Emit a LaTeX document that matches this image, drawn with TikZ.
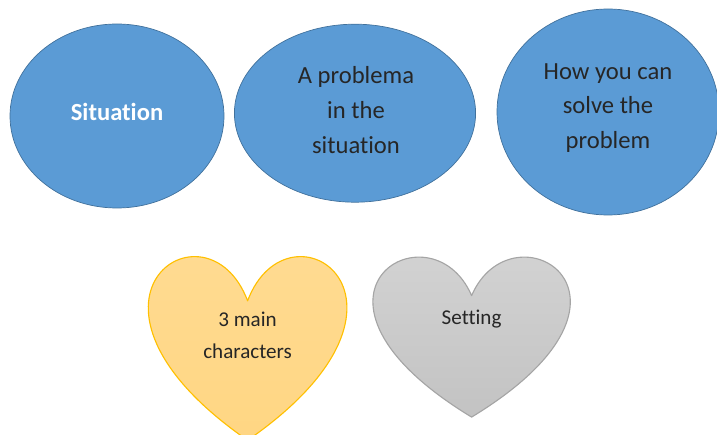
\documentclass[tikz,border=0pt]{standalone}
\usepackage{fontspec}
\setmainfont[Ligatures=NoCommon]{Carlito}
\usepackage{xcolor}
\usepackage{tikz}
\usetikzlibrary{shapes.geometric,positioning}

\definecolor{officeblue}{HTML}{5B9BD5}
\definecolor{blueedge}{HTML}{41719C}
\definecolor{goldfill}{HTML}{FFD683}
\definecolor{goldedge}{HTML}{FFC000}
\definecolor{greyfill}{HTML}{CDCDCD}
\definecolor{greyedge}{HTML}{A5A5A5}
\definecolor{inktext}{HTML}{262626}

\begin{document}
\begin{tikzpicture}[
  bubble/.style={draw=blueedge, line width=0.5pt, ellipse, fill=officeblue, inner sep=0pt},
  bubbletext/.style={align=center, text=inktext, font=\fontsize{17.5}{24.8}\selectfont},
  hearttext/.style={align=center, text=inktext, font=\fontsize{15}{22.8}\selectfont},
  heartline/.style={line width=0.8pt, line join=round}
]

\useasboundingbox (0,0) rectangle (17.925,10.85);
\clip (0,0) rectangle (17.925,10.85);

% top row of ellipses
\node[bubble, minimum width=5.35cm, minimum height=4.6cm] at (2.925, 7.95) (situ) {};
\node[font=\fontsize{17.5}{21}\selectfont\bfseries, text=white] at (2.925, 8.05) (situtxt) {Situation};

\node[bubble, minimum width=6.03cm, minimum height=4.45cm] at (8.875, 8.02) (prob) {};
\node[bubbletext] at (8.9, 8.1) (probtxt) {A problema\\in the\\situation};

\node[bubble, minimum width=5.55cm, minimum height=5.15cm] at (15.2, 8.05) (solve) {};
\node[bubbletext] at (15.2, 8.15) (solvetxt) {How you can\\solve the\\problem};

% hearts, drawn from the notch down in a unit box
\begin{scope}[shift={(6.19,3.33)}, xscale=4.93, yscale=4.65]
  \shade[heartline, draw=goldedge, top color=goldfill!85!white, bottom color=goldfill]
    (0,0) .. controls (0.2083,0.5833) and (1.0208,0) .. (0,-0.75)
          .. controls (-1.0208,0) and (-0.2083,0.5833) .. (0,0) -- cycle;
\end{scope}
\node[hearttext] at (6.19, 2.46) (chars) {3 main\\characters};

\begin{scope}[shift={(11.79,3.46)}, xscale=4.9, yscale=4.05]
  \shade[heartline, draw=greyedge, top color=greyfill!80!white, bottom color=greyfill!95!black]
    (0,0) .. controls (0.2083,0.5833) and (1.0208,0) .. (0,-0.75)
          .. controls (-1.0208,0) and (-0.2083,0.5833) .. (0,0) -- cycle;
\end{scope}
\node[hearttext] at (11.79, 2.87) (setting) {Setting};

\end{tikzpicture}
\end{document}
